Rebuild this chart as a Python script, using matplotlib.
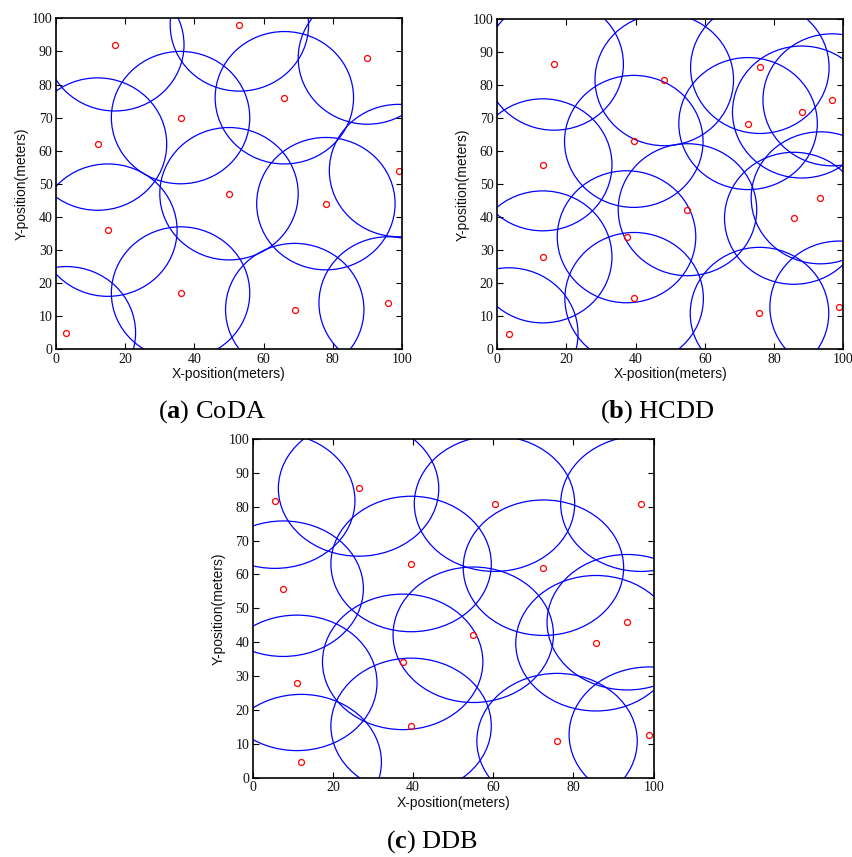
import matplotlib
matplotlib.use("Agg")
import matplotlib.pyplot as plt
from matplotlib.patches import Circle

plt.rcParams["mathtext.fontset"] = "custom"
plt.rcParams["mathtext.rm"] = "Liberation Serif"
plt.rcParams["mathtext.bf"] = "Liberation Serif:bold"

# ---------------- data ----------------
RANGE = 20  # sensing / communication radius (meters)

coda_x = [3, 17, 53, 90, 66, 36, 12, 99, 50, 78, 15, 36, 69, 96]
coda_y = [5, 92, 98, 88, 76, 70, 62, 54, 47, 44, 36, 17, 12, 14]

hcdd_x = [16.5, 48.3, 75.9, 72.5, 88.0, 96.8, 39.5, 13.2, 55.0, 93.4, 85.7, 37.4, 13.2, 39.6, 75.8, 98.8, 3.4]
hcdd_y = [86.4, 81.7, 85.4, 68.4, 71.9, 75.6, 63.0, 55.9, 42.3, 45.9, 39.7, 34.1, 28.0, 15.4, 10.9, 12.8, 4.7]

ddb_x = [5.5, 26.4, 60.3, 96.8, 7.6, 39.5, 72.5, 55.0, 93.4, 85.6, 37.4, 11.0, 39.5, 75.9, 98.9, 12.1]
ddb_y = [81.8, 85.4, 80.9, 80.9, 55.8, 63.1, 62.0, 42.2, 45.9, 39.7, 34.2, 28.0, 15.3, 10.8, 12.7, 4.6]

x_ticks = [0, 20, 40, 60, 80, 100]
y_ticks = [0, 10, 20, 30, 40, 50, 60, 70, 80, 90, 100]
captions = [("a", "CoDA"), ("b", "HCDD"), ("c", "DDB")]

# ---------------- layout ----------------
W, H = 853, 857
fig = plt.figure(figsize=(W / 100, H / 100), dpi=100)

def px_axes(left, top, right, bottom):
    return fig.add_axes([left / W, 1 - bottom / H, (right - left) / W, (bottom - top) / H])

panels = [
    (px_axes(56, 18.3, 402, 349.3), coda_x, coda_y, (212, 412)),
    (px_axes(497, 19.3, 843.3, 349.3), hcdd_x, hcdd_y, (657, 412)),
    (px_axes(252.7, 439, 653.7, 777.7), ddb_x, ddb_y, (432, 842)),
]

for (ax, xs, ys, cap_pos), (letter, name) in zip(panels, captions):
    for cx, cy in zip(xs, ys):
        ax.add_patch(Circle((cx, cy), RANGE, fill=False, edgecolor="#0000ff", linewidth=0.9))
    ax.plot(xs, ys, linestyle="none", marker="o", markersize=4.3,
            markerfacecolor="none", markeredgecolor="#ff0000", markeredgewidth=0.9)
    ax.set_xlim(0, 100)
    ax.set_ylim(0, 100)
    ax.set_xticks(x_ticks)
    ax.set_yticks(y_ticks)
    ax.tick_params(direction="in", length=4, width=0.8, top=True, right=True,
                   labelsize=10, pad=2.5, colors="black")
    for lab in ax.get_xticklabels() + ax.get_yticklabels():
        lab.set_fontfamily("Liberation Serif")
        lab.set_color("#111111")
    for sp in ax.spines.values():
        sp.set_linewidth(1.2)
    ax.set_xlabel("X-position(meters)", fontsize=10, family="Liberation Sans", labelpad=1, color="#111111")
    ax.set_ylabel("Y-position(meters)", fontsize=10, family="Liberation Sans", labelpad=2, color="#111111")
    fig.text(cap_pos[0] / W, 1 - cap_pos[1] / H,
             r"(" + r"$\mathbf{" + letter + r"}$" + r") " + name,
             ha="center", va="center", fontsize=19, family="Liberation Serif")

fig.savefig("out.png", dpi=100)
